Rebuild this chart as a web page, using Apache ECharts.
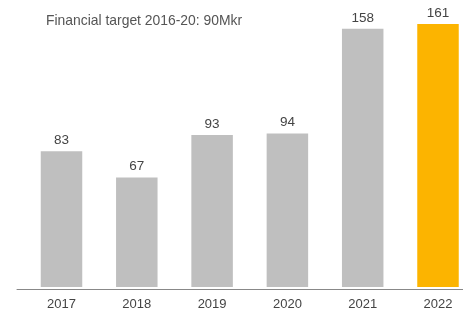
<!DOCTYPE html>
<html>
<head>
<meta charset="utf-8">
<script src="https://cdn.jsdelivr.net/npm/echarts@6/dist/echarts.min.js"></script>
<style>html,body{margin:0;padding:0;background:#fff;}#c{width:463px;height:311px;}</style>
</head>
<body>
<div id="c"></div>
<script>
const categories = ['2017', '2018', '2019', '2020', '2021', '2022'];
const values = [83, 67, 93, 94, 158, 161];
const highlightYear = '2022';
const titleText = 'Financial target 2016-20: 90Mkr';

const chart = echarts.init(document.getElementById('c'));
const FONT = '"Liberation Sans", Arial, sans-serif';
chart.setOption({
  animation: false,
  backgroundColor: '#ffffff',
  title: {
    text: titleText, left: 41, top: 9,
    textStyle: { fontSize: 13.9, fontWeight: 'normal', color: '#555', fontFamily: FONT }
  },
  grid: [
    { left: 61.5, right: 25, top: 9.2, bottom: 21.5 },
    { left: 17, right: 0, top: 9.2, bottom: 21.5 }
  ],
  xAxis: [
    {
      type: 'category', data: categories, gridIndex: 0, boundaryGap: false,
      axisLine: { show: false }, axisTick: { show: false },
      axisLabel: { margin: 11, fontSize: 13, color: '#444', fontFamily: FONT }
    },
    {
      type: 'value', gridIndex: 1, min: 0, max: 1,
      axisLine: { show: true, onZero: false, lineStyle: { color: '#888', width: 1 } },
      axisTick: { show: false }, axisLabel: { show: false }, splitLine: { show: false }
    }
  ],
  yAxis: [
    { type: 'value', min: 0, max: 170, gridIndex: 0, show: false, splitLine: { show: false } },
    { type: 'value', min: 0, max: 1, gridIndex: 1, show: false, splitLine: { show: false } }
  ],
  series: [{
    type: 'bar',
    xAxisIndex: 0, yAxisIndex: 0,
    barWidth: 41.5,
    clip: false,
    data: values.map((v, i) => ({
      value: v,
      itemStyle: { color: categories[i] === highlightYear ? '#fcb400' : '#bfbfbf' }
    })),
    label: {
      show: true, position: 'top', distance: 4,
      fontSize: 13.5, color: '#444', fontFamily: FONT
    }
  }]
});
</script>
</body>
</html>
